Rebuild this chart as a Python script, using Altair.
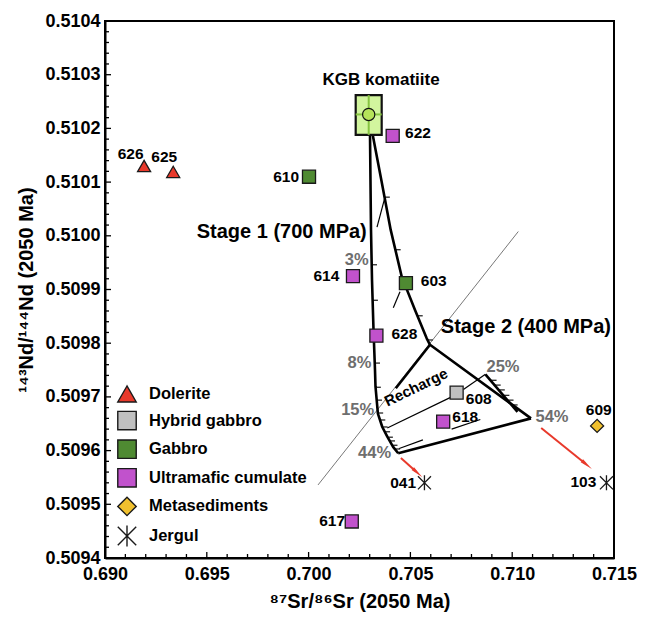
import altair as alt
import numpy as np
import pandas as pd

FONT = "'Liberation Sans', Arial, sans-serif"

# ---------------- categories / legend ----------------
types = ["Dolerite", "Hybrid gabbro", "Gabbro", "Ultramafic cumulate", "Metasediments", "Jergul"]
type_colors = ["#e8392b", "#c0c0c0", "#4f8a32", "#c152cc", "#f0c02e", "#000000"]
type_outline = ["#1a1a1a"] * 6
JERGUL_PATH = "M-1,-1L1,1M-1,1L1,-1M0,-1.15L0,1.15"
type_shapes = ["triangle-up", "square", "square", "square", "diamond", JERGUL_PATH]

# ---------------- samples ----------------
sample_id = ["626", "625", "610", "603", "622", "614", "628", "608", "618", "617", "609", "041", "103"]
sample_type = ["Dolerite", "Dolerite", "Gabbro", "Gabbro", "Ultramafic cumulate", "Ultramafic cumulate",
               "Ultramafic cumulate", "Hybrid gabbro", "Ultramafic cumulate", "Ultramafic cumulate",
               "Metasediments", "Jergul", "Jergul"]
sample_sr = [0.69192, 0.69335, 0.70002, 0.70478, 0.70413, 0.70218, 0.70333, 0.70727, 0.70661, 0.70212,
             0.71417, 0.70569, 0.71463]
sample_nd = [0.510130, 0.510119, 0.510110, 0.509912, 0.510186, 0.509925, 0.509814, 0.509708, 0.509654,
             0.509468, 0.509646, 0.509540, 0.509540]

# sample labels (data coordinates)
label_text = ["626", "625", "610", "622", "614", "603", "628", "608", "618", "609", "041", "103", "617"]
label_sr = [0.69126, 0.69291, 0.69953, 0.70474, 0.70151, 0.70551, 0.70407, 0.70772, 0.70706, 0.71425,
            0.70528, 0.71413, 0.70179]
label_nd = [0.510152, 0.510147, 0.510109, 0.510191, 0.509925, 0.509915, 0.509817, 0.509697, 0.509663,
            0.509676, 0.509540, 0.509542, 0.509468]
label_align = ["center", "center", "right", "left", "right", "left", "left", "left", "left", "center",
               "right", "right", "right"]

# ---------------- KGB komatiite ----------------
kgb_sr, kgb_nd = 0.702952, 0.510226
kgb_sr_lo, kgb_sr_hi = 0.702313, 0.703590
kgb_nd_lo, kgb_nd_hi = 0.510188, 0.510262

# ---------------- model curves ----------------
stage1_sr = [0.703016, 0.703065, 0.703114, 0.703188, 0.703261, 0.703286, 0.703404, 0.703620, 0.703865,
             0.704150, 0.704401]
stage1_nd = [0.510188, 0.510011, 0.509918, 0.509825, 0.509750, 0.509719, 0.509669, 0.509644, 0.509626,
             0.509607, 0.509595]
branch_sr = [0.703148, 0.703590, 0.704032, 0.704573, 0.705226, 0.705800, 0.705963, 0.710923]
branch_nd = [0.510188, 0.510100, 0.510011, 0.509924, 0.509862, 0.509809, 0.509797, 0.509660]
lower_sr = [0.704401, 0.710923]
lower_nd = [0.509595, 0.509660]
p25_sr = [0.708684, 0.710260]
p25_nd = [0.509742, 0.509672]
junction_sr = [0.705963, 0.704283]
junction_nd = [0.509797, 0.509716]

thin_segments = [
    ([0.707603, 0.708684], [0.509714, 0.509742]),   # 608 -> 25%
    ([0.703865, 0.707024], [0.509642, 0.509700]),   # recharge
    ([0.707024, 0.708433], [0.509640, 0.509658]),   # under 618
    ([0.704450, 0.705614], [0.509604, 0.509620]),   # near 44%
    ([0.704160, 0.704489], [0.509866, 0.509896]),   # tie near 603
    ([0.703752, 0.703360], [0.510072, 0.510016]),   # tie near top
]
diag_sr = [0.710300, 0.700462]
diag_nd = [0.510008, 0.509536]

# tick marks along curves (Nd values; Sr found on the curve)
stage1_tick_nd = [0.509946, 0.509880, 0.509763, 0.509718, 0.509694, 0.509670, 0.509657, 0.509644,
                  0.509635, 0.509625, 0.509618, 0.509610, 0.509603]
branch_tick_nd = [0.510072, 0.509974, 0.509851, 0.509806]
p25_tick_nd = [0.509731, 0.509722, 0.509713, 0.509703, 0.509694, 0.509685]

# red arrows
arrow_sr = [0.704533, 0.711424]
arrow_nd = [0.509586, 0.509642]
arrow_sr2 = [0.705275, 0.713586]
arrow_nd2 = [0.509561, 0.509576]
arrow_angle = [132, 129]

# percentage labels
pct_text = ["3%", "8%", "15%", "44%", "25%", "54%"]
pct_sr = [0.702363, 0.702500, 0.702412, 0.703242, 0.709548, 0.711955]
pct_nd = [0.509955, 0.509763, 0.509676, 0.509595, 0.509755, 0.509662]

# axis ticks
x_labels = [0.690, 0.695, 0.700, 0.705, 0.710, 0.715]
y_labels = [0.5094, 0.5095, 0.5096, 0.5097, 0.5098, 0.5099, 0.5100, 0.5101, 0.5102, 0.5103, 0.5104]

W, H = 509, 537
xs = alt.Scale(domain=[0.690, 0.715], nice=False, zero=False)
ys = alt.Scale(domain=[0.5094, 0.5104], nice=False, zero=False)

x_axis = alt.Axis(values=x_labels, format=".3f", title="⁸⁷Sr/⁸⁶Sr (2050 Ma)", grid=False, ticks=False,
                  labelFont=FONT, labelFontSize=18, labelFontWeight="bold", labelColor="black",
                  labelPadding=7, labelFlush=False, labelOverlap=False,
                  domainColor="black", domainWidth=2,
                  titleFont=FONT, titleFontSize=20, titleFontWeight="bold", titleColor="black",
                  titleX=W / 2, titleY=43, titleAlign="center", titleBaseline="middle")
y_axis = alt.Axis(values=y_labels, format=".4f", title="¹⁴³Nd/¹⁴⁴Nd (2050 Ma)", grid=False, ticks=False,
                  labelFont=FONT, labelFontSize=18, labelFontWeight="bold", labelColor="black",
                  labelPadding=5, labelFlush=False, labelOverlap=False,
                  domainColor="black", domainWidth=2,
                  titleFont=FONT, titleFontSize=20, titleFontWeight="bold", titleColor="black",
                  titleX=-79, titleY=H / 2, titleAngle=270, titleAlign="center", titleBaseline="middle")


def X(f="sr"):
    return alt.X(f"{f}:Q", scale=xs, axis=x_axis)


def Y(f="nd"):
    return alt.Y(f"{f}:Q", scale=ys, axis=y_axis)


def seg_df(segs):
    rows = []
    for i, (sx, sy) in enumerate(segs):
        for j, (a, b) in enumerate(zip(sx, sy)):
            rows.append({"seg": i, "ord": j, "sr": a, "nd": b})
    return pd.DataFrame(rows)


layers = []

# frame ticks (inward)
xt_major = [0.695, 0.700, 0.705, 0.710]
xt_minor = [v for v in np.round(np.arange(0.691, 0.7145, 0.001), 3) if v not in xt_major]
yt_major = list(np.round(np.arange(0.5095, 0.51035, 0.0001), 4))
yt_minor = [v for v in np.round(np.arange(0.50942, 0.51040, 0.00002), 5)
            if not np.isclose(v, np.round(v, 4))]
layers.append(alt.Chart(pd.DataFrame({"sr": xt_major})).mark_rule(color="black", strokeWidth=1.3)
              .encode(x=X(), y=alt.value(H), y2=alt.value(H - 6)))
layers.append(alt.Chart(pd.DataFrame({"sr": xt_minor})).mark_rule(color="black", strokeWidth=1.3)
              .encode(x=X(), y=alt.value(H), y2=alt.value(H - 4)))
layers.append(alt.Chart(pd.DataFrame({"nd": yt_major})).mark_rule(color="black", strokeWidth=1.3)
              .encode(y=Y(), x=alt.value(0), x2=alt.value(6)))
layers.append(alt.Chart(pd.DataFrame({"nd": yt_minor})).mark_rule(color="black", strokeWidth=1.3)
              .encode(y=Y(), x=alt.value(0), x2=alt.value(4)))

# gray diagonal
layers.append(alt.Chart(seg_df([(diag_sr, diag_nd)])).mark_line(color="#555555", strokeWidth=0.8)
              .encode(x=X(), y=Y(), detail="seg:N", order="ord:Q"))

# thin black lines
layers.append(alt.Chart(seg_df(thin_segments)).mark_line(color="black", strokeWidth=1.2)
              .encode(x=X(), y=Y(), detail="seg:N", order="ord:Q"))

# thick model curves
thick = [(stage1_sr, stage1_nd), (branch_sr, branch_nd), (lower_sr, lower_nd), (p25_sr, p25_nd),
         (junction_sr, junction_nd)]
layers.append(alt.Chart(seg_df(thick)).mark_line(color="black", strokeWidth=2.6, strokeJoin="round")
              .encode(x=X(), y=Y(), detail="seg:N", order="ord:Q"))

# tick marks along curves
tick_rows = []
s1_sr = np.interp(stage1_tick_nd, stage1_nd[::-1], stage1_sr[::-1])
br_sr = np.interp(branch_tick_nd, branch_nd[::-1], branch_sr[::-1])
pp_sr = np.interp(p25_tick_nd, p25_nd[::-1], p25_sr[::-1])
for a, b in zip(s1_sr, stage1_tick_nd):
    tick_rows.append({"sr": a, "nd": b, "sr2": a + 0.00026, "nd2": b})
for a, b in zip(br_sr, branch_tick_nd):
    tick_rows.append({"sr": a, "nd": b, "sr2": a + 0.00026, "nd2": b})
for a, b in zip(pp_sr, p25_tick_nd):
    tick_rows.append({"sr": a, "nd": b, "sr2": a + 0.00030, "nd2": b})
layers.append(alt.Chart(pd.DataFrame(tick_rows)).mark_rule(color="black", strokeWidth=1.1)
              .encode(x=X(), y=Y(), x2="sr2:Q", y2="nd2:Q"))

# red arrows
arr = pd.DataFrame({"sr": arrow_sr, "nd": arrow_nd, "sr2": arrow_sr2, "nd2": arrow_nd2, "ang": arrow_angle})
layers.append(alt.Chart(arr).mark_rule(color="#e8392b", strokeWidth=2)
              .encode(x=X(), y=Y(), x2="sr2:Q", y2="nd2:Q"))
layers.append(alt.Chart(arr).mark_point(shape="wedge", filled=True, color="#e8392b", size=220, opacity=1)
              .encode(x=X("sr2"), y=Y("nd2"), angle=alt.Angle("ang:Q", scale=None)))

# KGB komatiite box
kgb = pd.DataFrame({"sr": [kgb_sr_lo], "sr2": [kgb_sr_hi], "nd": [kgb_nd_lo], "nd2": [kgb_nd_hi],
                    "cx": [kgb_sr], "cy": [kgb_nd]})
layers.append(alt.Chart(kgb).mark_rect(fill="#d2f59e", stroke="#111111", strokeWidth=2.2)
              .encode(x=X(), x2="sr2:Q", y=Y(), y2="nd2:Q"))
layers.append(alt.Chart(kgb).mark_rule(color="#86c440", strokeWidth=2)
              .encode(x=X(), x2="sr2:Q", y=Y("cy")))
layers.append(alt.Chart(kgb).mark_rule(color="#86c440", strokeWidth=2)
              .encode(x=X("cx"), y=Y(), y2="nd2:Q"))
layers.append(alt.Chart(kgb).mark_point(shape="circle", filled=True, fill="#b5e35a", stroke="#111111",
                                        strokeWidth=1.2, size=150, opacity=1)
              .encode(x=X("cx"), y=Y("cy")))

# samples with legend
samples = pd.DataFrame({"sr": sample_sr, "nd": sample_nd, "type": sample_type, "id": sample_id})
leg = alt.Legend(orient="none", legendX=12, legendY=363, title=None, symbolSize=340,
                 labelFont=FONT, labelFontSize=16.5, labelFontWeight="bold", labelColor="black",
                 rowPadding=2.6, labelOffset=12, symbolStrokeWidth=1.4,
                 padding=0, symbolOpacity=1, labelLimit=300)
layers.append(alt.Chart(samples).mark_point(filled=True, strokeWidth=1.3, size=170, opacity=1)
              .encode(x=X(), y=Y(),
                      color=alt.Color("type:N", scale=alt.Scale(domain=types, range=type_colors), legend=leg),
                      stroke=alt.Stroke("type:N", scale=alt.Scale(domain=types, range=type_outline),
                                        legend=leg),
                      shape=alt.Shape("type:N", scale=alt.Scale(domain=types, range=type_shapes),
                                      legend=leg)))

# sample labels
labels = pd.DataFrame({"sr": label_sr, "nd": label_nd, "text": label_text, "align": label_align})
for al in ["left", "center", "right"]:
    layers.append(alt.Chart(labels[labels["align"] == al]).mark_text(
        font=FONT, fontSize=15.5, fontWeight="bold", color="black", align=al, baseline="middle")
        .encode(x=X(), y=Y(), text="text:N"))

# percentage labels
pct = pd.DataFrame({"sr": pct_sr, "nd": pct_nd, "text": pct_text})
layers.append(alt.Chart(pct).mark_text(font=FONT, fontSize=16.5, fontWeight="bold", color="#6e6e6e",
                                       align="center", baseline="middle")
              .encode(x=X(), y=Y(), text="text:N"))

# annotations
ann_center = pd.DataFrame({"sr": [0.703560], "nd": [0.510290], "text": ["KGB komatiite"]})
layers.append(alt.Chart(ann_center).mark_text(font=FONT, fontSize=17, fontWeight="bold", color="black",
                                              align="center", baseline="middle")
              .encode(x=X(), y=Y(), text="text:N"))
ann_s1 = pd.DataFrame({"sr": [0.694504], "nd": [0.510008], "text": ["Stage 1 (700 MPa)"]})
layers.append(alt.Chart(ann_s1).mark_text(font=FONT, fontSize=20, fontWeight="bold", color="black",
                                          align="left", baseline="middle")
              .encode(x=X(), y=Y(), text="text:N"))
ann_s2 = pd.DataFrame({"sr": [0.714850], "nd": [0.509831], "text": ["Stage 2 (400 MPa)"]})
layers.append(alt.Chart(ann_s2).mark_text(font=FONT, fontSize=20, fontWeight="bold", color="black",
                                          align="right", baseline="middle")
              .encode(x=X(), y=Y(), text="text:N"))
ann_rc = pd.DataFrame({"sr": [0.705275], "nd": [0.509718], "text": ["Recharge"]})
layers.append(alt.Chart(ann_rc).mark_text(font=FONT, fontSize=15, fontWeight="bold", color="black",
                                          align="center", baseline="middle", angle=334)
              .encode(x=X(), y=Y(), text="text:N"))

chart = alt.layer(*layers).properties(
    width=W, height=H,
    autosize=alt.AutoSizeParams(type="none"),
    padding={"left": 97, "top": 13, "right": 27, "bottom": 55},
).configure_view(stroke="black", strokeWidth=2)

chart.save("out.html", embed_options={"renderer": "svg", "actions": False})
